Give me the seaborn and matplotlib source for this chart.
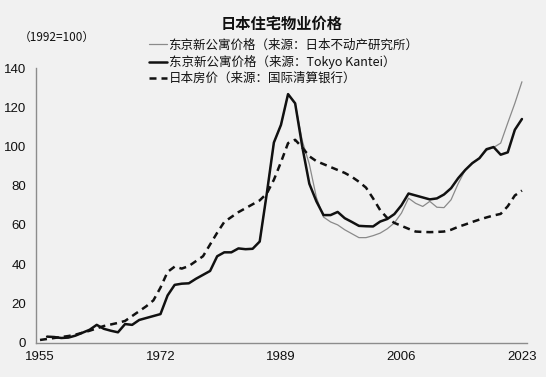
import matplotlib
matplotlib.use("Agg")
import matplotlib.pyplot as plt
import seaborn as sns
import pandas as pd
from matplotlib.lines import Line2D

# ---------------- data (1992 = 100) ----------------
kantei_years = list(range(1956, 2024))
kantei_vals = [3.0, 2.8, 2.3, 2.5, 3.5, 5.0, 6.5, 9.0, 7.0, 6.0,
               5.2, 9.4, 9.0, 11.5, 12.5, 13.5, 14.5, 24.0, 29.4, 30.0,
               30.2, 32.5, 34.5, 36.5, 44.0, 46.0, 46.0, 48.0, 47.6, 47.8,
               51.5, 76.0, 102.0, 111.0, 126.7, 122.0, 100.0, 81.0, 72.0, 65.0,
               65.0, 66.6, 63.4, 61.5, 59.5, 59.3, 59.2, 61.7, 63.0, 65.5,
               70.0, 76.0, 75.0, 74.0, 73.0, 73.5, 75.5, 78.7, 83.8, 88.0,
               91.5, 94.0, 98.6, 99.7, 95.8, 97.0, 108.5, 114.0]

reei_years = list(range(1986, 2024))
reei_vals = [51.5, 76.0, 102.0, 111.0, 126.7, 122.0, 103.0, 91.0, 74.0, 64.0,
             61.5, 60.0, 57.5, 55.5, 53.5, 53.5, 54.5, 55.8, 58.0, 61.0,
             66.0, 73.6, 71.0, 69.4, 72.0, 69.0, 68.8, 72.8, 81.0, 88.0,
             91.5, 94.0, 98.0, 99.5, 101.7, 112.0, 122.0, 133.0]

bis_years = list(range(1955, 2024))
bis_vals = [1.3, 1.8, 2.3, 2.8, 3.3, 4.0, 5.0, 6.0, 7.2, 8.4,
            9.2, 10.0, 11.0, 13.5, 16.0, 18.5, 21.5, 28.0, 36.0, 38.7,
            37.7, 39.0, 41.5, 44.0, 50.0, 56.0, 61.5, 64.0, 66.5, 68.5,
            70.5, 72.5, 76.0, 83.0, 92.0, 101.7, 103.4, 99.5, 95.0, 92.5,
            91.0, 89.5, 88.0, 86.5, 84.5, 82.0, 79.0, 73.5, 67.5, 63.5,
            61.0, 59.5, 58.0, 56.6, 56.4, 56.3, 56.4, 56.6, 57.5, 59.0,
            60.2, 61.5, 62.7, 63.8, 64.8, 65.6, 69.5, 75.0, 77.5]

xtick_years = [1955, 1972, 1989, 2006, 2023]
ytick_vals = [0, 20, 40, 60, 80, 100, 120, 140]

title = "日本住宅物业价格"
unit_label = "（1992=100）"
label_reei = "东京新公寓价格（来源：日本不动产研究所）"
label_kantei = "东京新公寓价格（来源：Tokyo Kantei）"
label_bis = "日本房价（来源：国际清算银行）"

# ---------------- style ----------------
sns.set_theme(style="white")
plt.rcParams["font.family"] = ["Noto Sans CJK SC", "DejaVu Sans"]
bg = "#f1f1f1"

fig = plt.figure(figsize=(5.46, 3.77), dpi=100, facecolor=bg)
ax = fig.add_axes([0.066, 0.0915, 0.899, 0.728])
ax.set_facecolor(bg)

df_reei = pd.DataFrame({"year": reei_years, "value": reei_vals})
df_kantei = pd.DataFrame({"year": kantei_years, "value": kantei_vals})
df_bis = pd.DataFrame({"year": bis_years, "value": bis_vals})

sns.lineplot(data=df_reei, x="year", y="value", ax=ax, color="#8a8a8a", linewidth=0.9)
sns.lineplot(data=df_bis, x="year", y="value", ax=ax, color="#111111", linewidth=1.8,
             linestyle=(0, (2.8, 2.0)))
sns.lineplot(data=df_kantei, x="year", y="value", ax=ax, color="#111111", linewidth=1.8)

ax.set_xlim(1954.44, 2023.7)
ax.set_ylim(0, 140)
ax.set_xticks(xtick_years)
ax.set_xticklabels([str(y) for y in xtick_years], fontfamily="Liberation Sans", fontsize=9.5)
ax.set_yticks(ytick_vals)
ax.set_yticklabels([str(v) for v in ytick_vals], fontfamily="Liberation Sans", fontsize=9.5)
ax.tick_params(axis="y", length=0, pad=7, colors="#111111")
ax.tick_params(axis="x", length=0, pad=6, colors="#111111")
ax.set_xlabel("")
ax.set_ylabel("")
for s in ["top", "right"]:
    ax.spines[s].set_visible(False)
for s in ["left", "bottom"]:
    ax.spines[s].set_color("#8c8c8c")
    ax.spines[s].set_linewidth(1.0)

# title and unit
fig.text(0.515, 0.936, title, ha="center", va="center", fontsize=11, fontweight="bold",
         color="#111111")
fig.text(0.035, 0.902, unit_label, ha="left", va="center", fontsize=8.5, color="#111111")

handles = [
    Line2D([], [], color="#8a8a8a", linewidth=0.9),
    Line2D([], [], color="#111111", linewidth=1.8),
    Line2D([], [], color="#111111", linewidth=1.8, linestyle=(0, (2.8, 2.0))),
]
fig.legend(handles, [label_reei, label_kantei, label_bis], loc="upper left",
           bbox_to_anchor=(0.272, 0.897), frameon=False, fontsize=9,
           handlelength=1.5, handletextpad=0.1, labelspacing=0.25,
           borderpad=0, borderaxespad=0, labelcolor="#111111")

fig.savefig("out.png", dpi=100, facecolor=bg)
